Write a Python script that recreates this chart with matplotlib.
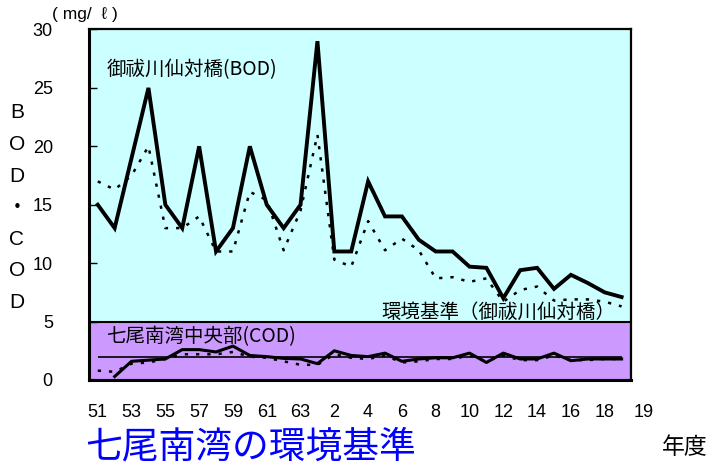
import numpy as np
import matplotlib
matplotlib.use("Agg")
from matplotlib import pyplot as plt
from matplotlib import transforms

# fiscal years: Showa 51..63, Heisei 1..19
year_names = [str(y) for y in range(51, 64)] + [str(y) for y in range(1, 20)]
tick_names = ['51', '53', '55', '57', '59', '61', '63', '2', '4', '6', '8',
              '10', '12', '14', '16', '18']

# BOD at 御祓川仙対橋 (mg/l)
bod = [15, 13, 19, 25, 15, 13, 20, 11, 13, 20, 15, 13, 15, 29, 11, 11,
       17, 14, 14, 12, 11, 11, 9.7, 9.6, 7.0, 9.4, 9.6, 7.8, 9.0, 8.3, 7.5, 7.1]
bod_dot = [17.0, 16.3, 17.5, 20.0, 13.0, 13.0, 14.0, 11.0, 11.0, 16.1, 15.4,
           11.1, 14.5, 21.0, 10.3, 9.7, 13.6, 11.1, 12.1, 11.1, 8.7, 8.8, 8.4,
           8.7, 6.7, 7.7, 8.0, 6.8, 6.9, 6.9, 6.7, 6.3]

# COD at 七尾南湾中央部 (mg/l)
cod = [np.nan, 0.3, 1.6, 1.7, 1.8, 2.6, 2.6, 2.4, 2.9, 2.1, 2.0, 1.85, 1.8,
       1.4, 2.5, 2.1, 2.0, 2.3, 1.6, 1.8, 1.9, 1.9, 2.3, 1.5, 2.3, 1.8, 1.8,
       2.3, 1.65, 1.8, 1.8, 1.8]
cod_dot = [0.8, 0.7, 1.4, 1.5, 1.8, 2.2, 2.2, 2.2, 2.4, 2.0, 1.9, 1.6, 1.3,
           1.3, 2.2, 1.9, 1.8, 2.1, 1.5, 1.6, 1.8, 1.8, 2.1, 1.6, 2.1, 1.7,
           1.7, 2.1, 1.7, 1.7, 1.8, 1.8]
cod_standard = 2.0
bod_standard = 5.0

CJK = ['Noto Sans CJK JP', 'DejaVu Sans']
plt.rcParams['font.family'] = ['Liberation Sans', 'DejaVu Sans']

x = np.arange(len(year_names))

fig = plt.figure(figsize=(7.14, 4.65), dpi=100)
ax = fig.add_axes([0.1246, 0.1828, 0.759, 0.7538])
ax.set_facecolor('#CCFFFF')
ax.axhspan(0, bod_standard, facecolor='#CC99FF', edgecolor='black', lw=1.5)

dots = (0, (1.3, 3.2))
ax.plot(x, bod, color='black', lw=2.8, solid_joinstyle='miter')
ax.plot(x, bod_dot, color='black', lw=1.8, linestyle=dots)
ax.hlines(cod_standard, x[0], x[-1], color='black', lw=1.2)
ax.plot(x, cod, color='black', lw=2.2)
ax.plot(x, cod_dot, color='black', lw=1.8, linestyle=dots)

ax.set_xlim(-0.52, 31.55)
ax.set_ylim(0, 30)
ax.set_yticks(range(0, 31, 5))
ax.tick_params(axis='y', direction='in', length=6, width=1, pad=26,
               labelsize=13)
ax.set_xticks([])
for side in ['left', 'bottom', 'right', 'top']:
    ax.spines[side].set_color('black')
    ax.spines[side].set_linewidth(1.6)
ax.spines['left'].set_linewidth(2.2)
ax.spines['bottom'].set_linewidth(2.2)

# year labels below the axis
trans = transforms.blended_transform_factory(ax.transData, ax.transAxes)
for name in tick_names:
    ax.text(year_names.index(name), -0.093, name, transform=trans,
            ha='center', va='center', fontsize=13, clip_on=False)
ax.text(32.3, -0.093, '19', transform=trans, ha='center', va='center',
        fontsize=13, clip_on=False)

ax.text(0.5, 26.6, '御祓川仙対橋(BOD)', fontsize=14, family=CJK,
        ha='left', va='center')
ax.text(16.8, 5.75, '環境基準（御祓川仙対橋）', fontsize=14, family=CJK,
        ha='left', va='center')
ax.text(0.5, 3.75, '七尾南湾中央部(COD)', fontsize=14, family=CJK,
        ha='left', va='center')

fig.text(52 / 714, 1 - 14 / 465, '( mg/  ℓ )', fontsize=12.5,
         ha='left', va='center')
for i, ch in enumerate(['B', 'O', 'D', '・', 'C', 'O', 'D']):
    fig.text(17 / 714, 1 - (113 + 31.5 * i) / 465, ch, fontsize=15,
             ha='center', va='center', family=CJK if ch == '・' else None)

fig.text(85 / 714, 1 - 447 / 465, '七尾南湾の環境基準', fontsize=26.5,
         color='#0000FF', family=CJK, ha='left', va='center')
fig.text(662 / 714, 1 - 447 / 465, '年度', fontsize=16.5, family=CJK,
         ha='left', va='center')

fig.savefig('out.png', dpi=100, facecolor='white')
